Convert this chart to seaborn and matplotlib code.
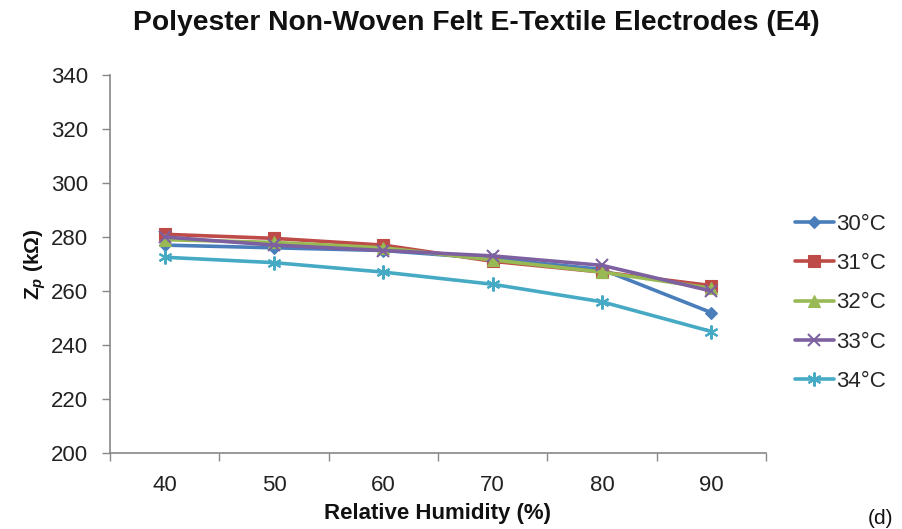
import matplotlib
matplotlib.use("Agg")
import matplotlib.pyplot as plt
import seaborn as sns
import pandas as pd
from matplotlib.ticker import FixedLocator

humidity = ["40", "50", "60", "70", "80", "90"]
series_names = ["30°C", "31°C", "32°C", "33°C", "34°C"]
z_30 = [277, 276, 275, 272, 268, 252]
z_31 = [281, 279.5, 277, 271, 267, 262]
z_32 = [279, 278, 276, 271.5, 267, 261]
z_33 = [280, 277, 275, 273, 269.5, 260]
z_34 = [272.5, 270.5, 267, 262.5, 256, 245]
y_ticks = [200, 220, 240, 260, 280, 300, 320, 340]

colors = ["#4A7EBB", "#BE4B48", "#98B954", "#7D60A0", "#46AAC5"]
markers = ["D", "s", "^", "x", (6, 2, 0)]
msizes = [6, 8, 8, 9, 10]

rows = []
for name, vals in zip(series_names, [z_30, z_31, z_32, z_33, z_34]):
    for i, (h, v) in enumerate(zip(humidity, vals)):
        rows.append({"pos": i, "RH": h, "Zp": v, "Temp": name})
df = pd.DataFrame(rows)

sns.set_theme(style="white")
plt.rcParams["font.family"] = ["Liberation Sans", "DejaVu Sans"]
plt.rcParams["mathtext.fontset"] = "custom"
plt.rcParams["mathtext.bf"] = "Liberation Sans:bold"
plt.rcParams["mathtext.rm"] = "Liberation Sans"
plt.rcParams["mathtext.it"] = "Liberation Sans:italic:bold"

fig = plt.figure(figsize=(9.02, 5.29), dpi=100)
ax = fig.add_axes([110 / 902, 1 - 453 / 529, (766 - 110) / 902, (453 - 75) / 529])

for name, c, m, ms in zip(series_names, colors, markers, msizes):
    sub = df[df["Temp"] == name]
    sns.lineplot(data=sub, x="pos", y="Zp", ax=ax, color=c, marker=m,
                 markersize=ms, linewidth=2.6, markeredgecolor=c,
                 markeredgewidth=1.5 if m in ("x", (6, 2, 0)) else 0.8,
                 label=name, legend=False)

ax.set_xlim(-0.5, 5.5)
ax.set_ylim(200, 340)
ax.set_yticks(y_ticks)
ax.set_xticks(range(len(humidity)))
ax.set_xticklabels(humidity)
ax.xaxis.set_minor_locator(FixedLocator([i - 0.5 for i in range(len(humidity) + 1)]))
ax.tick_params(axis="x", which="major", length=0, labelsize=16, pad=16, labelcolor="#222222")
ax.tick_params(axis="x", which="minor", length=6, width=1, color="#888888", direction="out", bottom=True)
ax.tick_params(axis="y", length=6, width=1, color="#888888", direction="out", left=True,
               labelsize=16, pad=10, labelcolor="#222222")
for s in ["top", "right"]:
    ax.spines[s].set_visible(False)
for s in ["left", "bottom"]:
    ax.spines[s].set_color("#888888")
    ax.spines[s].set_linewidth(1.2)
ax.grid(False)

ax.set_xlabel("Relative Humidity (%)", fontsize=16, fontweight="bold", labelpad=5, color="#111111")
ax.set_ylabel(r"$\mathbf{Z}_{\mathit{p}}$ (kΩ)", fontsize=15, fontweight="bold", labelpad=2, color="#111111")

fig.text(476 / 902, 1 - 23 / 529, "Polyester Non-Woven Felt E-Textile Electrodes (E4)",
         ha="center", va="center", fontsize=20.3, fontweight="bold", color="#111111")

handles, labels = ax.get_legend_handles_labels()
fig.legend(handles, labels, loc="upper left", bbox_to_anchor=(786 / 902, 1 - 205 / 529),
           frameon=False, fontsize=16, handlelength=1.75, handletextpad=0.1,
           labelspacing=0.82, borderaxespad=0)

fig.text(868 / 902, 1 - 528 / 529, "(d)", ha="left", va="bottom", fontsize=15, color="#111111")

fig.savefig("out.png", dpi=100)
